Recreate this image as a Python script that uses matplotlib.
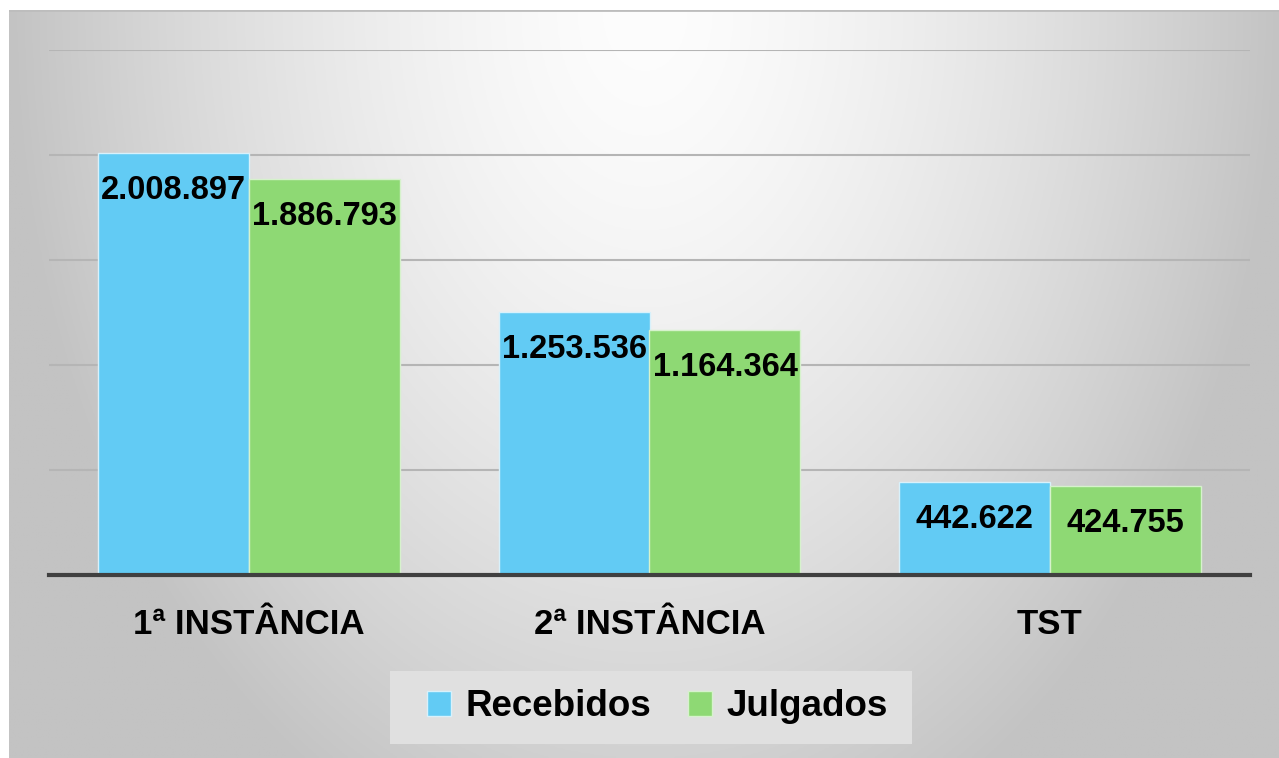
import numpy as np
import matplotlib
matplotlib.use("Agg")
import matplotlib.pyplot as plt
from matplotlib.patches import Rectangle

plt.rcParams['font.family'] = ['Liberation Sans', 'DejaVu Sans']

categories = ["1ª INSTÂNCIA", "2ª INSTÂNCIA", "TST"]
recebidos = [2008897, 1253536, 442622]
julgados = [1886793, 1164364, 424755]
series_names = ["Recebidos", "Julgados"]

blue = "#62CBF4"
green = "#8ED974"


def fmt(v):
    return f"{v:,}".replace(",", ".")


fig = plt.figure(figsize=(12.79, 7.58), dpi=100)
fig.patch.set_facecolor("white")

# background panel with radial gradient
bg = fig.add_axes([9 / 1279, 0, 1 - 9 / 1279, 1 - 10 / 758])
bg.set_axis_off()
h, w = 300, 500
yy, xx = np.mgrid[0:h, 0:w]
d = np.sqrt(((xx - w / 2) / (w / 2)) ** 2 + (yy / (h * 1.2)) ** 2)
d = np.clip(d, 0, 1)
v = (253 - 58 * d ** 1.5) / 255
img = np.dstack([v, v, v])
bg.imshow(img, aspect="auto", extent=[0, 1, 0, 1], origin="upper")
bg.axhline(1, color="#bdbdbd", lw=2)
bg.set_xlim(0, 1)
bg.set_ylim(0, 1)

# legend box
bg.add_patch(Rectangle((390 / 1279, 1 - 744 / 758), 522 / 1279, 73 / 758,
                       transform=fig.transFigure, facecolor="#e0e0e0",
                       edgecolor="none", zorder=2))

ax = fig.add_axes([49 / 1279, 183 / 758, 1201 / 1279, 525 / 758])
ax.patch.set_alpha(0)
x = np.arange(len(categories))
bw = 0.377
b1 = ax.bar(x - bw / 2, recebidos, bw, color=blue, edgecolor="#d8f1fb", lw=1, label=series_names[0], zorder=3)
b2 = ax.bar(x + bw / 2, julgados, bw, color=green, edgecolor="#d6f2cc", lw=1, label=series_names[1], zorder=3)

for bars, vals in [(b1, recebidos), (b2, julgados)]:
    for r, val in zip(bars, vals):
        ax.annotate(fmt(val), (r.get_x() + r.get_width() / 2, val),
                    xytext=(0, -27), textcoords="offset points",
                    ha="center", va="center", fontsize=23.5, fontweight="bold", zorder=4)

ax.set_xlim(-0.5, 2.5)
ax.set_ylim(0, 2500000)
ax.set_yticks(np.arange(500000, 2500001, 500000))
ax.yaxis.grid(True, color="#b5b5b5", lw=1.5, zorder=0)
ax.set_yticklabels([])
ax.tick_params(axis="y", length=0)
ax.axhline(0, color="#404040", lw=3.0, zorder=5, clip_on=False)
for s in ax.spines.values():
    s.set_visible(False)
ax.set_xticks(x)
ax.set_xticklabels(categories, fontsize=25, fontweight="bold")
ax.tick_params(axis="x", length=0, pad=24)

leg = ax.legend(loc="center", bbox_to_anchor=(657.5 / 1279, 1 - 707 / 758),
                bbox_transform=fig.transFigure, ncol=2, frameon=False,
                prop={"size": 26.5, "weight": "bold"}, handlelength=0.64, handleheight=0.64,
                handletextpad=0.4, columnspacing=1.0, borderpad=0, borderaxespad=0)

fig.savefig("out.png", dpi=100)
